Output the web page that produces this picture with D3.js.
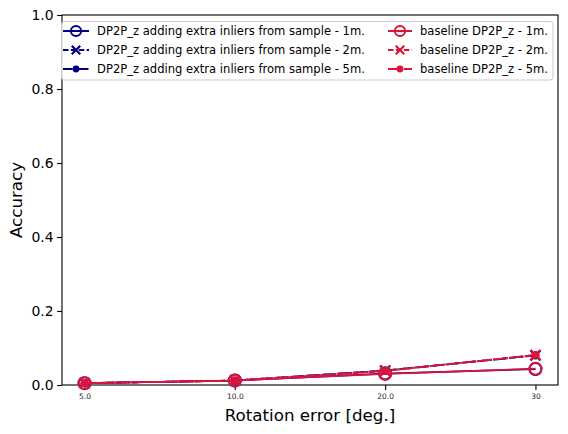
<!DOCTYPE html>
<html><head><meta charset="utf-8">
<script src="https://cdn.jsdelivr.net/npm/d3@7"></script>
<style>body{margin:0;background:#fff}svg{display:block}text{font-family:"DejaVu Sans",sans-serif}</style>
</head><body><svg id="c" width="568" height="434"></svg>
<script>
const categories = ["5.0", "10.0", "20.0", "30"];
const dp2p_1m = [0.005, 0.012, 0.031, 0.043];
const dp2p_2m = [0.005, 0.012, 0.039, 0.080];
const dp2p_5m = [0.005, 0.012, 0.039, 0.080];
const base_1m = [0.005, 0.012, 0.030, 0.044];
const base_2m = [0.005, 0.012, 0.038, 0.081];
const base_5m = [0.005, 0.012, 0.038, 0.081];
const yTicks = [0.0, 0.2, 0.4, 0.6, 0.8, 1.0];

const series = [
  {name:"DP2P_z adding extra inliers from sample - 1m.", values:dp2p_1m, color:"#000080", dash:null, marker:"o"},
  {name:"DP2P_z adding extra inliers from sample - 2m.", values:dp2p_2m, color:"#000080", dash:"5.5,2.4", marker:"x"},
  {name:"DP2P_z adding extra inliers from sample - 5m.", values:dp2p_5m, color:"#000080", dash:"9.6,2.4,1.5,2.4", marker:"."},
  {name:"baseline DP2P_z - 1m.", values:base_1m, color:"#DC143C", dash:null, marker:"o"},
  {name:"baseline DP2P_z - 2m.", values:base_2m, color:"#DC143C", dash:"5.5,2.4", marker:"x"},
  {name:"baseline DP2P_z - 5m.", values:base_5m, color:"#DC143C", dash:"9.6,2.4,1.5,2.4", marker:"."}
];

const L=62, T=15, R=558, B=385;
const svg = d3.select("#c");
const x = d3.scaleLinear().domain([-0.15, categories.length-1+0.15]).range([L,R]);
const y = d3.scaleLinear().domain([0,1]).range([B,T]);

const xAxis = svg.append("g").attr("transform",`translate(0,${B})`)
  .call(d3.axisBottom(x).tickValues(d3.range(categories.length)).tickFormat(i=>categories[i]).tickSize(4.9).tickPadding(3.5));
xAxis.selectAll("text").attr("font-size","7.5px").attr("fill","#262626");
const yAxis = svg.append("g").attr("transform",`translate(${L},0)`)
  .call(d3.axisLeft(y).tickValues(yTicks).tickFormat(d3.format(".1f")).tickSize(4.9).tickPadding(3.5));
yAxis.selectAll("text").attr("font-size","13.9px").attr("fill","#000");
[xAxis,yAxis].forEach(a=>{a.select(".domain").remove(); a.selectAll("line").attr("stroke","#000").attr("stroke-width",1.1);});
svg.append("rect").attr("x",L).attr("y",T).attr("width",R-L).attr("height",B-T)
  .attr("fill","none").attr("stroke","#000").attr("stroke-width",1.1);

svg.append("text").attr("x",(L+R)/2).attr("y",421).attr("text-anchor","middle")
  .attr("font-size","16.7px").text("Rotation error [deg.]");
svg.append("text").attr("transform",`translate(22,${(T+B)/2}) rotate(-90)`).attr("text-anchor","middle")
  .attr("font-size","16.7px").text("Accuracy");

function drawMarker(g, m, cx, cy, color, scale){
  if(m==="o") g.append("circle").attr("cx",cx).attr("cy",cy).attr("r",6*scale).attr("fill","none").attr("stroke",color).attr("stroke-width",2);
  else if(m==="x"){ const s=5*scale;
    g.append("path").attr("d",`M${cx-s},${cy-s}L${cx+s},${cy+s}M${cx-s},${cy+s}L${cx+s},${cy-s}`).attr("stroke",color).attr("stroke-width",2.2);
  } else g.append("circle").attr("cx",cx).attr("cy",cy).attr("r",4*scale).attr("fill",color);
}

const line = d3.line().x((d,i)=>x(i)).y(d=>y(d));
const plot = svg.append("g");
series.forEach(s=>{
  const g = plot.append("g");
  g.append("path").attr("d",line(s.values)).attr("fill","none").attr("stroke",s.color).attr("stroke-width",1.8)
    .attr("stroke-dasharray",s.dash);
  s.values.forEach((v,i)=>drawMarker(g,s.marker,x(i),y(v),s.color,1));
});

const lg = svg.append("g");
lg.append("rect").attr("x",61.5).attr("y",21.5).attr("width",491.5).attr("height",58.5).attr("rx",3)
  .attr("fill","#fff").attr("fill-opacity",0.8).attr("stroke","#ccc").attr("stroke-width",1);
const cols=[{hx0:63,hx1:89,tx:97},{hx0:388,hx1:412,tx:420}];
const rowY=[31,50,69];
series.forEach((s,k)=>{
  const c=cols[Math.floor(k/3)], ry=rowY[k%3];
  lg.append("line").attr("x1",c.hx0).attr("x2",c.hx1).attr("y1",ry).attr("y2",ry)
    .attr("stroke",s.color).attr("stroke-width",2).attr("stroke-dasharray",s.dash);
  drawMarker(lg,s.marker,(c.hx0+c.hx1)/2,ry,s.color,0.85);
  lg.append("text").attr("x",c.tx).attr("y",ry).attr("dy","0.36em").attr("font-size","11.57px").text(s.name);
});
</script></body></html>
